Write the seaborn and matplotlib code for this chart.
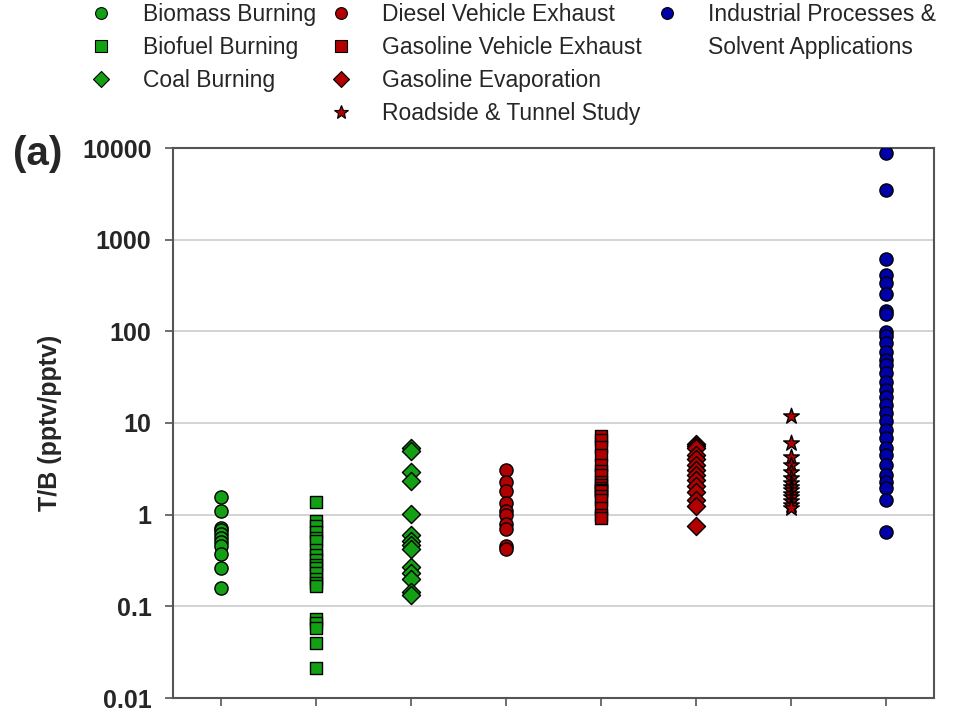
import seaborn as sns
import pandas as pd
import matplotlib.pyplot as plt
from matplotlib.lines import Line2D

# T/B ratios, one list per source
biomass = [1.55, 1.1, 0.72, 0.68, 0.62, 0.55, 0.5, 0.45, 0.37, 0.26, 0.16]
biofuel = [1.36, 0.86, 0.75, 0.65, 0.55, 0.51, 0.41, 0.36, 0.32, 0.28, 0.26,
           0.23, 0.2, 0.18, 0.165, 0.072, 0.065, 0.058, 0.04, 0.021]
coal = [5.3, 4.9, 2.95, 2.35, 1.02, 0.6, 0.52, 0.47, 0.42, 0.27, 0.23, 0.2, 0.145, 0.133]
diesel = [3.1, 2.3, 1.8, 1.35, 1.1, 1.0, 0.8, 0.7, 0.46, 0.42]
gas_exhaust = [7.2, 6.5, 5.5, 4.5, 3.5, 3.0, 2.7, 2.3, 2.1, 1.95, 1.87, 1.8,
               1.6, 1.45, 1.18, 1.0, 0.92]
gas_evap = [5.9, 5.6, 5.3, 4.5, 4.0, 3.5, 3.1, 2.7, 2.4, 2.05, 1.75, 1.45, 1.25, 0.75]
roadside = [12.0, 6.0, 4.3, 3.45, 2.9, 2.5, 2.2, 2.0, 1.85, 1.7, 1.55, 1.4, 1.28, 1.18]
industrial = [8750, 3480, 610, 410, 340, 256, 167, 153, 99, 88, 74, 60, 49, 43, 35,
              28, 23, 19.4, 15.7, 12.8, 10.4, 8.4, 6.8, 5.3, 4.5, 3.45, 2.72, 2.3,
              1.95, 1.45, 0.65]

sources = ['Biomass Burning', 'Biofuel Burning', 'Coal Burning',
           'Diesel Vehicle Exhaust', 'Gasoline Vehicle Exhaust', 'Gasoline Evaporation',
           'Roadside & Tunnel Study', 'Industrial Processes & Solvent Applications']
values = [biomass, biofuel, coal, diesel, gas_exhaust, gas_evap, roadside, industrial]
y_ticks = [0.01, 0.1, 1, 10, 100, 1000, 10000]
y_ticklabels = ['0.01', '0.1', '1', '10', '100', '1000', '10000']

green, red, blue = '#14A014', '#B00000', '#0000A8'
palette = dict(zip(sources, [green, green, green, red, red, red, red, blue]))
markers = dict(zip(sources, ['o', 's', 'D', 'o', 's', 'D', '*', 'o']))
sizes = dict(zip(sources, [90, 85, 85, 90, 85, 85, 140, 90]))

df = pd.DataFrame([(s, v) for s, vals in zip(sources, values) for v in vals],
                  columns=['source', 'ratio'])

sns.set_style('ticks')
plt.rcParams['font.family'] = ['Liberation Sans', 'DejaVu Sans']

fig = plt.figure(figsize=(9.67, 7.12), dpi=100)
ax = fig.add_axes([173 / 967, 1 - 698 / 712, 761 / 967, 550 / 712])

for src in sources:
    sub = df[df['source'] == src]
    sns.scatterplot(data=sub, x='source', y='ratio', marker=markers[src], s=sizes[src],
                    color=palette[src], edgecolor='black', linewidth=1, ax=ax,
                    zorder=3, legend=False)

ax.set_yscale('log')
ax.set_ylim(0.01, 10000)
ax.set_xlim(-0.5, 7.5)
ax.set_yticks(y_ticks)
ax.set_yticklabels(y_ticklabels, fontsize=18, fontweight='bold')
ax.minorticks_off()
ax.set_xticks(range(len(sources)))
ax.set_xticklabels([''] * len(sources))
ax.set_xlabel('')
ax.set_ylabel('T/B (pptv/pptv)', fontsize=18, fontweight='bold')
ax.yaxis.set_label_coords(-0.146, 0.5)
ax.grid(axis='y', color='#cccccc', linewidth=1.2, zorder=0)
ax.tick_params(direction='out', length=5.5, width=1.2, color='#555555')
ax.tick_params(axis='y', pad=10)
for sp in ax.spines.values():
    sp.set_color('#555555')
    sp.set_linewidth(1.5)

fig.text(13 / 967, 1 - 154 / 712, '(a)', fontsize=29, fontweight='bold', va='center')

# legend laid out in three columns like the original
def handle(src):
    ms = {'o': 8.5, 's': 8, 'D': 8, '*': 10}[markers[src]]
    return Line2D([], [], linestyle='', marker=markers[src], markersize=ms,
                  markerfacecolor=palette[src], markeredgecolor='black', markeredgewidth=0.8)

blank = Line2D([], [], linestyle='')
handles = [handle(s) for s in sources[:3]] + [blank] + \
          [handle(s) for s in sources[3:7]] + \
          [handle(sources[7]), blank, blank, blank]
labels = sources[:3] + [''] + sources[3:7] + \
         ['Industrial Processes &', 'Solvent Applications', '', '']
fig.legend(handles, labels, ncol=3, loc='upper left', bbox_to_anchor=(90 / 967, 1 - 3 / 712),
           frameon=False, fontsize=16.5, handlelength=1, handletextpad=1.3,
           columnspacing=0.6, labelspacing=0.43, borderpad=0, borderaxespad=0)

fig.savefig('out.png', dpi=100)
